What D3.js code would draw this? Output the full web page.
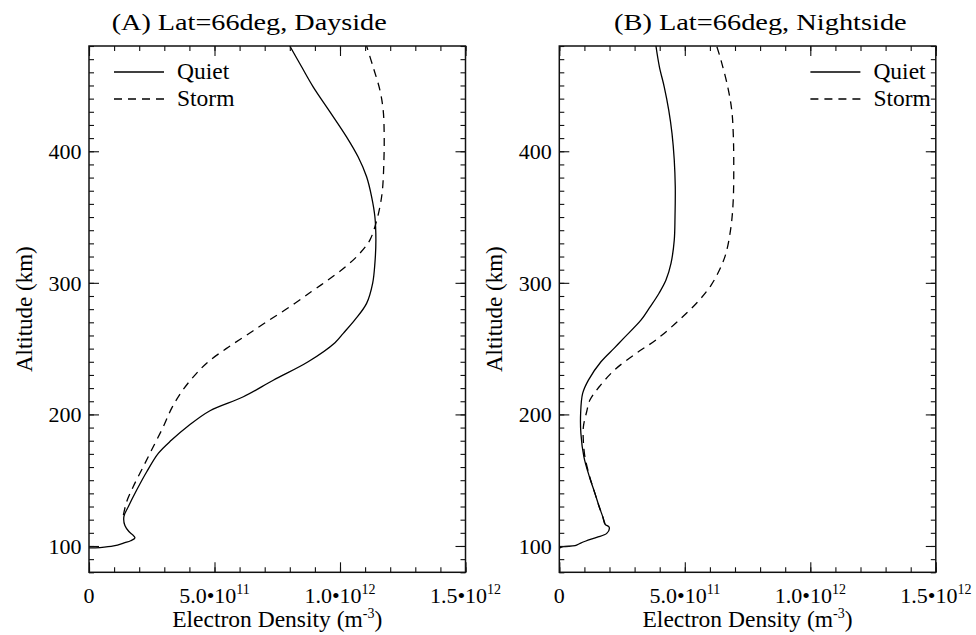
<!DOCTYPE html>
<html>
<head>
<meta charset="utf-8">
<script src="https://cdn.jsdelivr.net/npm/d3@7"></script>
<style>
  html, body { margin: 0; padding: 0; background: #fff; }
  svg { display: block; }
</style>
</head>
<body>
<svg id="chart" width="976" height="635"></svg>
<script>
// Electron density profiles at 66 deg latitude; densities in units of 1e11 m^-3, altitude in km.
const dayQuietAlt = [98.5, 98.8, 100, 102.5, 104, 106.2, 108.8, 111, 115.5, 122.3, 130, 142.5, 156.4, 170.4, 180.5, 191.2, 202.8, 213.4, 226, 240, 254.5, 261.6, 271.8, 284.4, 299.6, 314.8, 332.5, 350.2, 365.4, 380.6, 395.8, 411, 430, 449, 464.2, 480];
const dayQuietNe  = [0, 0.44, 0.98, 1.43, 1.66, 1.83, 1.72, 1.59, 1.43, 1.39, 1.57, 1.90, 2.30, 2.76, 3.29, 3.95, 4.82, 6.15, 7.34, 8.73, 9.80, 10.13, 10.59, 11.06, 11.30, 11.39, 11.43, 11.39, 11.26, 11.06, 10.72, 10.26, 9.60, 8.93, 8.47, 8.00];

const dayStormAlt = [123.5, 133.6, 145, 160.2, 175.4, 190.6, 204.6, 217.2, 229.9, 240, 250.2, 260.3, 270.4, 281.8, 293.2, 302.1, 312.2, 322.4, 332.5, 345.2, 357.8, 370.5, 393.3, 413.6, 431.3, 446.5, 464, 480];
const dayStormNe  = [1.37, 1.50, 1.76, 2.16, 2.56, 2.96, 3.29, 3.69, 4.22, 4.75, 5.48, 6.28, 7.08, 8.00, 8.85, 9.52, 10.22, 10.79, 11.19, 11.43, 11.59, 11.69, 11.75, 11.76, 11.72, 11.59, 11.32, 11.06];

const nightQuietAlt = [98.3, 99.5, 100.2, 102, 103.8, 106.6, 109.6, 114.2, 116.7, 122.3, 129.8, 140, 152.6, 167.8, 185.6, 200.8, 216, 226.1, 240, 250.2, 257.8, 271.8, 280.9, 292.3, 302.1, 314.8, 332.5, 350.2, 373, 393.3, 413.6, 431.3, 449, 464, 480];
const nightQuietNe  = [0, 0.16, 0.63, 0.83, 1.06, 1.49, 1.89, 1.99, 1.82, 1.73, 1.59, 1.42, 1.20, 0.98, 0.86, 0.85, 0.93, 1.16, 1.66, 2.18, 2.56, 3.26, 3.59, 3.98, 4.25, 4.45, 4.58, 4.61, 4.62, 4.58, 4.49, 4.36, 4.18, 3.99, 3.85];

const nightStormAlt = [116.7, 122.3, 129.8, 140, 152.6, 167.8, 179.2, 190.6, 202, 210.9, 221, 233.8, 246.4, 256.6, 271.8, 286.9, 298.3, 309.7, 322.4, 342.6, 363, 393.3, 413.6, 431.3, 449, 469.3, 480];
const nightStormNe  = [1.82, 1.73, 1.59, 1.42, 1.21, 1.02, 0.96, 0.96, 1.09, 1.22, 1.59, 2.20, 3.06, 3.85, 4.78, 5.58, 6.05, 6.38, 6.64, 6.84, 6.93, 6.95, 6.93, 6.87, 6.71, 6.44, 6.27];

// Axis ticks (x in units of 1e11 m^-3)
const xTickValues   = [0, 5, 10, 15];
const xTickMantissa = ["0", "5.0", "1.0", "1.5"];
const xTickExponent = ["", "11", "12", "12"];
const yTickValues   = [100, 200, 300, 400];

const seriesNames = ["Quiet", "Storm"];
const panelTitles = ["(A) Lat=66deg, Dayside", "(B) Lat=66deg, Nightside"];

const panels = [
  { title: panelTitles[0], left: 89, titleX: 111.7, titleW: 275, legendSide: "left",
    series: [ { alt: dayQuietAlt, ne: dayQuietNe }, { alt: dayStormAlt, ne: dayStormNe } ] },
  { title: panelTitles[1], left: 559.3, titleX: 614, titleW: 292.7, legendSide: "right",
    series: [ { alt: nightQuietAlt, ne: nightQuietNe }, { alt: nightStormAlt, ne: nightStormNe } ] }
];

const plotW = 376.5, plotTop = 46, plotBottom = 572.3;
const dashes = ["none", "8,6"];

const svg = d3.select("#chart")
  .attr("font-family", "'Liberation Serif', 'Times New Roman', Tinos, serif");
const y = d3.scaleLinear().domain([80, 480]).range([plotBottom, plotTop]);
const yMinor = d3.range(80, 481, 10);
const xMinor = d3.range(0, 15.01, 1);

panels.forEach((p, pi) => {
  const x = d3.scaleLinear().domain([0, 15]).range([p.left, p.left + plotW]);
  const g = svg.append("g").attr("class", "panel");

  // Title
  g.append("text")
    .attr("x", p.titleX).attr("y", 30)
    .attr("font-size", 24)
    .attr("textLength", p.titleW).attr("lengthAdjust", "spacingAndGlyphs")
    .text(p.title);

  // Curves
  const clipId = "clip" + pi;
  g.append("clipPath").attr("id", clipId).append("rect")
    .attr("x", p.left).attr("y", plotTop).attr("width", plotW).attr("height", plotBottom - plotTop);
  const line = d3.line().curve(d3.curveCatmullRom.alpha(0.5));
  p.series.forEach((s, si) => {
    const pts = s.alt.map((a, i) => [x(s.ne[i]), y(a)]);
    g.append("path")
      .attr("d", line(pts))
      .attr("clip-path", `url(#${clipId})`)
      .attr("fill", "none").attr("stroke", "#000")
      .attr("stroke-width", 1.3)
      .attr("stroke-dasharray", dashes[si]);
  });

  // Ticks on all four sides, pointing inward
  const axes = g.append("g").attr("class", "axes");
  const styleAxis = sel => { sel.select(".domain").remove(); sel.selectAll("line").attr("stroke", "#111").attr("stroke-width", 1.1); };
  const tickSets = [
    [d3.axisBottom, `translate(0,${plotBottom})`, x, xMinor, xTickValues],
    [d3.axisTop, `translate(0,${plotTop})`, x, xMinor, xTickValues],
    [d3.axisLeft, `translate(${p.left},0)`, y, yMinor, yTickValues],
    [d3.axisRight, `translate(${p.left + plotW},0)`, y, yMinor, yTickValues]
  ];
  tickSets.forEach(([axisFn, tr, sc, minor, major]) => {
    axes.append("g").attr("transform", tr)
      .call(axisFn(sc).tickValues(minor).tickSize(-5).tickFormat(""))
      .call(styleAxis);
    axes.append("g").attr("transform", tr)
      .call(axisFn(sc).tickValues(major).tickSize(-10).tickFormat(""))
      .call(styleAxis);
  });

  // Frame
  g.append("rect")
    .attr("x", p.left).attr("y", plotTop).attr("width", plotW).attr("height", plotBottom - plotTop)
    .attr("fill", "none").attr("stroke", "#111").attr("stroke-width", 1.5);

  // Y tick labels
  g.selectAll(".ylab").data(yTickValues).enter().append("text")
    .attr("class", "ylab")
    .attr("x", p.left - 7.5).attr("y", d => y(d)).attr("dy", "0.35em")
    .attr("text-anchor", "end").attr("font-size", 22)
    .text(d => d);

  // X tick labels with power-of-ten notation
  xTickValues.forEach((v, i) => {
    const t = g.append("text")
      .attr("x", x(v)).attr("y", 603)
      .attr("text-anchor", "middle").attr("font-size", 22);
    if (xTickExponent[i] === "") {
      t.text(xTickMantissa[i]);
    } else {
      t.append("tspan").text(xTickMantissa[i] + "\u202210");
      t.append("tspan").attr("font-size", 14).attr("dy", -9).text(xTickExponent[i]);
    }
  });

  // Axis titles
  const xt = g.append("text")
    .attr("x", p.left + plotW / 2).attr("y", 627)
    .attr("text-anchor", "middle").attr("font-size", 23.5);
  xt.append("tspan").text("Electron Density (m");
  xt.append("tspan").attr("font-size", 14).attr("dy", -9).text("-3");
  xt.append("tspan").attr("dy", 9).text(")");

  g.append("text")
    .attr("transform", `translate(${p.left - 57},${(plotTop + plotBottom) / 2}) rotate(-90)`)
    .attr("text-anchor", "middle").attr("font-size", 23)
    .text("Altitude (km)");

  // Legend
  const lx = p.legendSide === "left" ? p.left + 25 : p.left + plotW - 125.4;
  seriesNames.forEach((name, si) => {
    const ly = 72 + si * 27;
    g.append("line")
      .attr("x1", lx).attr("x2", lx + 50).attr("y1", ly).attr("y2", ly)
      .attr("stroke", "#000").attr("stroke-width", 1.3)
      .attr("stroke-dasharray", dashes[si]);
    g.append("text")
      .attr("x", lx + 63).attr("y", ly + 7)
      .attr("font-size", 23.5)
      .text(name);
  });
});
</script>
</body>
</html>
